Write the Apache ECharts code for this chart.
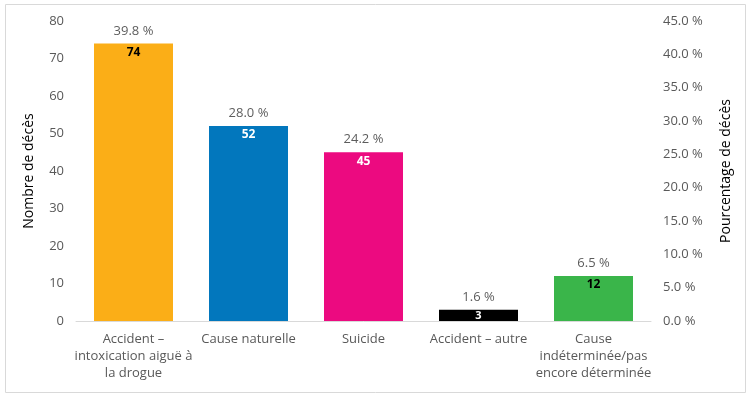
<!DOCTYPE html>
<html><head><meta charset="utf-8">
<script src="https://cdn.jsdelivr.net/npm/echarts@6/dist/echarts.min.js"></script>
<style>html,body{margin:0;padding:0;background:#fff}#c{width:750px;height:397px}</style>
</head><body><div id="c"></div>
<script>
const categories = ["Accident –\nintoxication aiguë à\nla drogue", "Cause naturelle", "Suicide", "Accident – autre", "Cause\nindéterminée/pas\nencore déterminée"];
const counts = [74, 52, 45, 3, 12];
const percents = [39.8, 28.0, 24.2, 1.6, 6.5];
const barColors = ["#FBAE17", "#0277BD", "#EC0A80", "#000000", "#3AB54A"];
const valueLabelColors = ["#000000", "#ffffff", "#ffffff", "#ffffff", "#000000"];

const FONT = "'Open Sans', 'Noto Sans', sans-serif";
const chart = echarts.init(document.getElementById('c'), null, {renderer: 'canvas'});
chart.setOption({
  animation: false,
  textStyle: {fontFamily: FONT},
  graphic: [{type: 'rect', shape: {x: 5.5, y: 4.5, width: 740, height: 388}, style: {fill: 'none', stroke: '#d9d9d9', lineWidth: 1}, silent: true, z: -1}],
  grid: {left: 76, right: 99, top: 21, bottom: 76},
  xAxis: {
    type: 'category', data: categories,
    axisLine: {lineStyle: {color: '#d9d9d9'}},
    axisTick: {show: false},
    axisLabel: {color: '#595959', fontSize: 13, lineHeight: 17, margin: 10, interval: 0, fontFamily: FONT}
  },
  yAxis: [{
    type: 'value', min: 0, max: 80, interval: 10,
    name: 'Nombre de décès', nameLocation: 'middle', nameGap: 40, nameRotate: 90,
    nameTextStyle: {color: '#000', fontSize: 14, fontFamily: FONT},
    splitLine: {show: false}, axisLine: {show: false}, axisTick: {show: false},
    axisLabel: {color: '#595959', fontSize: 13, margin: 12, fontFamily: FONT}
  }, {
    type: 'value', min: 0, max: 45, interval: 5, position: 'right',
    name: 'Pourcentage de décès', nameLocation: 'middle', nameGap: 68, nameRotate: 90,
    nameTextStyle: {color: '#000', fontSize: 14, fontFamily: FONT},
    splitLine: {show: false}, axisLine: {show: false}, axisTick: {show: false},
    axisLabel: {color: '#595959', fontSize: 13, margin: 12, fontFamily: FONT,
      formatter: v => v.toFixed(1) + ' %'}
  }],
  series: [{
    type: 'bar', yAxisIndex: 0, barWidth: 79,
    data: counts.map((v, i) => ({value: v, itemStyle: {color: barColors[i]},
      label: v < 5 ? {color: valueLabelColors[i], position: 'inside', fontSize: 11} : {color: valueLabelColors[i]}})),
    label: {show: true, position: 'insideTop', distance: 3, fontSize: 12, fontWeight: 'bold', fontFamily: FONT}
  }, {
    type: 'scatter', yAxisIndex: 0, symbolSize: 0,
    data: counts.map((v, i) => [i, v]),
    label: {show: true, position: 'top', distance: 6, color: '#333333', fontSize: 13, fontFamily: FONT,
      formatter: p => percents[p.dataIndex].toFixed(1) + ' %'}
  }]
});
</script></body></html>
